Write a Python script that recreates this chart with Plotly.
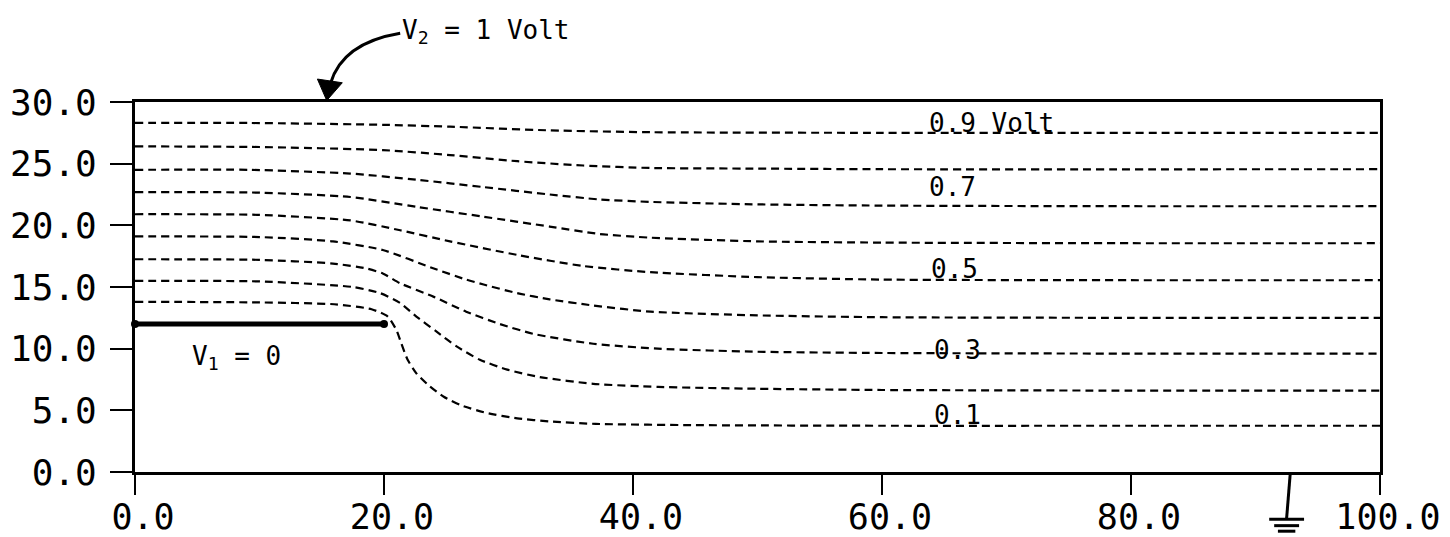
import plotly.graph_objects as go

# ---- data -------------------------------------------------------------
levels = ["0.1", "0.2", "0.3", "0.4", "0.5", "0.6", "0.7", "0.8", "0.9"]

x_01 = [0, 10, 16, 19, 20.3, 21.0, 21.4, 21.9, 22.6, 23.5, 24.8, 26.2, 28.2, 30.7, 33.3, 37, 45, 60, 80, 100]
y_01 = [13.8, 13.75, 13.6, 13.2, 12.6, 11.5, 10.4, 9.1, 8.0, 7.1, 6.1, 5.4, 4.8, 4.35, 4.1, 3.9, 3.8, 3.75, 3.75, 3.75]

x_02 = [0, 10, 17.5, 19.7, 21.3, 22.6, 24.2, 25.8, 27.7, 29.9, 32.5, 36.8, 42, 50, 60, 80, 100]
y_02 = [15.5, 15.45, 15.0, 14.5, 13.7, 12.6, 11.4, 10.2, 9.1, 8.3, 7.7, 7.15, 6.9, 6.75, 6.65, 6.6, 6.6]

x_03 = [0, 10, 15.9, 18.6, 19.9, 21.3, 24.0, 26.6, 29.3, 32.0, 36.8, 42, 50, 60, 80, 100]
y_03 = [17.25, 17.2, 16.9, 16.5, 16.1, 15.3, 14.2, 13.0, 12.0, 11.2, 10.4, 10.0, 9.75, 9.65, 9.6, 9.6]

x_04 = [0, 10, 15.9, 19.9, 24.0, 26.6, 28.0, 30.7, 33.3, 36.8, 41.4, 50, 60, 80, 100]
y_04 = [19.1, 19.05, 18.7, 18.0, 16.5, 15.6, 15.2, 14.5, 14.0, 13.5, 13.0, 12.7, 12.55, 12.5, 12.5]

x_05 = [0, 9.8, 17.3, 21.3, 25.3, 30.7, 36.0, 41.4, 50, 60, 80, 100]
y_05 = [20.9, 20.85, 20.4, 19.6, 18.7, 17.6, 16.7, 16.2, 15.8, 15.6, 15.55, 15.55]

x_06 = [0, 10, 17.3, 22.6, 28.0, 33.3, 37.3, 41.4, 50, 60, 80, 100]
y_06 = [22.7, 22.65, 22.3, 21.5, 20.7, 19.9, 19.3, 19.0, 18.7, 18.6, 18.55, 18.55]

x_07 = [0, 9.2, 17.3, 22.6, 28.0, 33.3, 37.3, 41.4, 50, 60, 80, 100]
y_07 = [24.5, 24.5, 24.2, 23.7, 23.1, 22.5, 22.1, 21.9, 21.7, 21.6, 21.55, 21.55]

x_08 = [0, 10, 19.9, 25.3, 30.7, 36.0, 41.4, 50, 60, 100]
y_08 = [26.4, 26.35, 26.1, 25.7, 25.2, 24.85, 24.65, 24.6, 24.55, 24.55]

x_09 = [0, 9.2, 20, 25.3, 33.3, 41.4, 60, 100]
y_09 = [28.3, 28.3, 28.15, 28.0, 27.7, 27.55, 27.5, 27.5]

electrode_x = [0, 20]
electrode_y = [12, 12]

label_text = ["0.9 Volt", "0.7", "0.5", "0.3", "0.1"]
label_x = [63.6, 63.6, 63.8, 64.0, 64.0]
label_y = [28.3, 23.1, 16.5, 9.9, 4.6]

x_ticks = [0, 20, 40, 60, 80, 100]
x_tick_text = ["0.0", "20.0", "40.0", "60.0", "80.0", "100.0"]
y_ticks = [0, 5, 10, 15, 20, 25, 30]
y_tick_text = ["0.0", "5.0", "10.0", "15.0", "20.0", "25.0", "30.0"]

# ---- figure -----------------------------------------------------------
MONO = "DejaVu Sans Mono"
fig = go.Figure()

line_x = [x_01, x_02, x_03, x_04, x_05, x_06, x_07, x_08, x_09]
line_y = [y_01, y_02, y_03, y_04, y_05, y_06, y_07, y_08, y_09]
for name, xs, ys in zip(levels, line_x, line_y):
    fig.add_trace(go.Scatter(
        x=xs, y=ys, mode="lines", name=name,
        line=dict(color="black", width=2.2, dash="8px,5px", shape="spline", smoothing=0.6),
        showlegend=False, hoverinfo="skip"))

fig.add_trace(go.Scatter(
    x=electrode_x, y=electrode_y, mode="lines+markers",
    line=dict(color="black", width=5),
    marker=dict(color="black", size=8),
    showlegend=False, cliponaxis=False, hoverinfo="skip"))

for t, lx, ly in zip(label_text, label_x, label_y):
    fig.add_annotation(x=lx, y=ly, text=t, showarrow=False, xanchor="left",
                       yanchor="middle", font=dict(family=MONO, size=26, color="black"))

fig.add_annotation(x=4.4, y=9.3, text="V<sub>1</sub> = 0", showarrow=False,
                   xanchor="left", yanchor="middle",
                   font=dict(family=MONO, size=26, color="black"))

# V2 label with curved arrow (above the plot)
fig.add_annotation(xref="x domain", yref="y domain", x=0.213, y=1.19,
                   text="V<sub>2</sub> = 1 Volt", showarrow=False,
                   xanchor="left", yanchor="middle",
                   font=dict(family=MONO, size=26, color="black"))
fig.add_shape(type="path", xref="x domain", yref="y domain",
              path="M 0.213 1.186 C 0.181 1.168, 0.163 1.12, 0.157 1.05",
              line=dict(color="black", width=3))
# arrow head (filled triangle) pointing down onto the top border
fig.add_shape(type="path", xref="x domain", yref="y domain",
              path="M 0.1465 1.062 L 0.1665 1.052 L 0.154 1.004 Z",
              fillcolor="black", line=dict(color="black", width=1))

# ground symbol below the x axis
gx = 0.925
fig.add_shape(type="line", xref="x domain", yref="y domain",
              x0=gx + 0.003, y0=0.0, x1=gx, y1=-0.125, line=dict(color="black", width=3))
for dy, half in [(-0.128, 0.014), (-0.145, 0.010), (-0.160, 0.007)]:
    fig.add_shape(type="line", xref="x domain", yref="y domain",
                  x0=gx - half, y0=dy, x1=gx + half, y1=dy,
                  line=dict(color="black", width=3))

fig.update_xaxes(range=[0, 100], tickmode="array", tickvals=x_ticks, ticktext=x_tick_text,
                 showgrid=False, zeroline=False, showline=True, mirror=True,
                 linecolor="black", linewidth=3, ticks="outside", ticklen=20,
                 tickwidth=2, tickcolor="black", automargin=False,
                 tickfont=dict(family=MONO, size=35, color="black"),
                 ticklabelshift=8, ticklabelstandoff=-8)
fig.update_yaxes(range=[0, 30], tickmode="array", tickvals=y_ticks, ticktext=y_tick_text,
                 showgrid=False, zeroline=False, showline=True, mirror=True,
                 linecolor="black", linewidth=3, ticks="outside", ticklen=22,
                 tickwidth=2, tickcolor="black", automargin=False,
                 tickfont=dict(family=MONO, size=36, color="black"),
                 ticklabelstandoff=6)

# the page body adds an 8px offset, so the figure is sized to fit the window
fig.update_layout(width=1442, height=529,
                  margin=dict(l=127, r=70, t=94, b=65),
                  paper_bgcolor="white", plot_bgcolor="white")

fig.write_html("out.html")
